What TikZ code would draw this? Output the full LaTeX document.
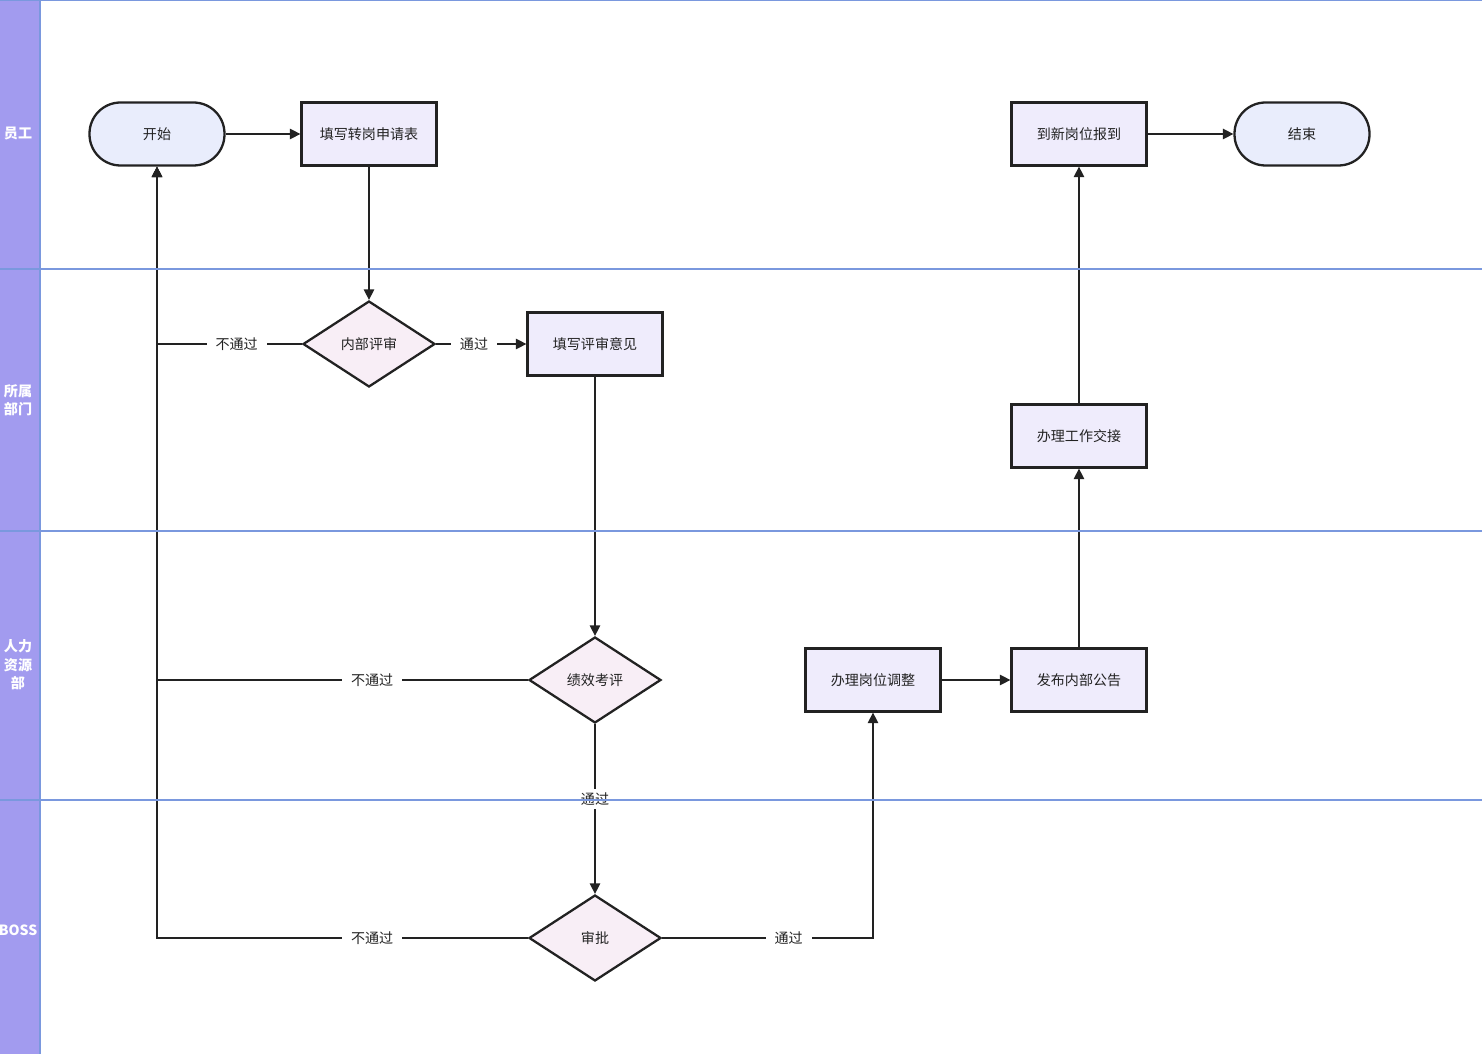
\documentclass[tikz,border=0pt]{standalone}
\usepackage{fontspec}
\setmainfont{Noto Sans CJK SC}
\usepackage{xcolor}
\definecolor{lanebar}{RGB}{162,155,239}
\definecolor{laneline}{RGB}{122,152,222}
\definecolor{termfill}{RGB}{233,237,252}
\definecolor{procfill}{RGB}{239,236,252}
\definecolor{decfill}{RGB}{248,238,246}
\definecolor{ink}{RGB}{34,34,34}
\usetikzlibrary{shapes.geometric,arrows.meta}
\tikzset{
  base/.style={draw=ink, line width=1.3pt, font=\fontsize{8pt}{10pt}\selectfont, text=ink, inner sep=0pt},
  terminal/.style={base, fill=termfill, rounded corners=0.62cm, minimum width=2.7cm, minimum height=1.26cm},
  process/.style={base, fill=procfill, minimum width=2.7cm, minimum height=1.26cm},
  decision/.style={base, fill=decfill, diamond, shape aspect=1.53, minimum width=2.64cm, minimum height=1.72cm},
  flow/.style={draw=ink, line width=0.8pt, -{Triangle[length=6pt,width=6pt]}},
  tag/.style={fill=white, inner xsep=5pt, inner ysep=2pt, font=\fontsize{8pt}{10pt}\selectfont, text=ink},
  lanetext/.style={text=white, font=\fontsize{8pt}{10.5pt}\selectfont\bfseries, align=center, inner sep=0pt}
}
\begin{document}
\begin{tikzpicture}[x=0.02cm, y=-0.02cm]
    \useasboundingbox (0,0) rectangle (1482,1054);
    % Swimlanes
    \fill[lanebar] (0,0) rectangle (40,1054);
    \draw[laneline, line width=0.6pt] (40,0) -- (40,1054);
    \node[lanetext] (lane1) at (18,134) {员工};
    \node[lanetext] (lane2) at (18,400) {所属\\部门};
    \node[lanetext] (lane3) at (18,665) {人力\\资源\\部};
    \node[lanetext] (lane4) at (18,930) {BOSS};

    % Nodes
    \node[terminal] (start) at (157,134) {开始};
    \node[process] (apply) at (369,134) {填写转岗申请表};
    \node[decision] (review) at (369,344) {内部评审};
    \node[process] (opinion) at (595,344) {填写评审意见};
    \node[decision] (perf) at (595,680) {绩效考评};
    \node[decision] (approve) at (595,938) {审批};
    \node[process] (adjust) at (873,680) {办理岗位调整};
    \node[process] (notice) at (1079,680) {发布内部公告};
    \node[process] (handover) at (1079,436) {办理工作交接};
    \node[process] (report) at (1079,134) {到新岗位报到};
    \node[terminal] (finish) at (1302,134) {结束};

    % Connectors
    \draw[flow] (start) -- (apply);
    \draw[flow] (apply) -- (review);
    \draw[flow] (review) -- node[tag, pos=0.42] {通过} (opinion);
    \draw[flow] (review) -| node[tag, pos=0.225] {不通过} (start);
    \draw[flow] (opinion) -- (perf);
    \draw[flow] (perf) -| node[tag, pos=0.21] {不通过} (start);
    \draw[flow] (perf) -- node[tag, pos=0.44] {通过} (approve);
    \draw[flow] (approve) -| node[tag, pos=0.21] {不通过} (start);
    \draw[flow] (approve) -| node[tag, pos=0.3] {通过} (adjust);
    \draw[flow] (adjust) -- (notice);
    \draw[flow] (notice) -- (handover);
    \draw[flow] (handover) -- (report);
    \draw[flow] (report) -- (finish);

    % lane separators on top
    \foreach \y in {0.5, 269, 531, 800} {
        \draw[laneline, line width=0.6pt] (0,\y) -- (1482,\y);
    }
\end{tikzpicture}
\end{document}
